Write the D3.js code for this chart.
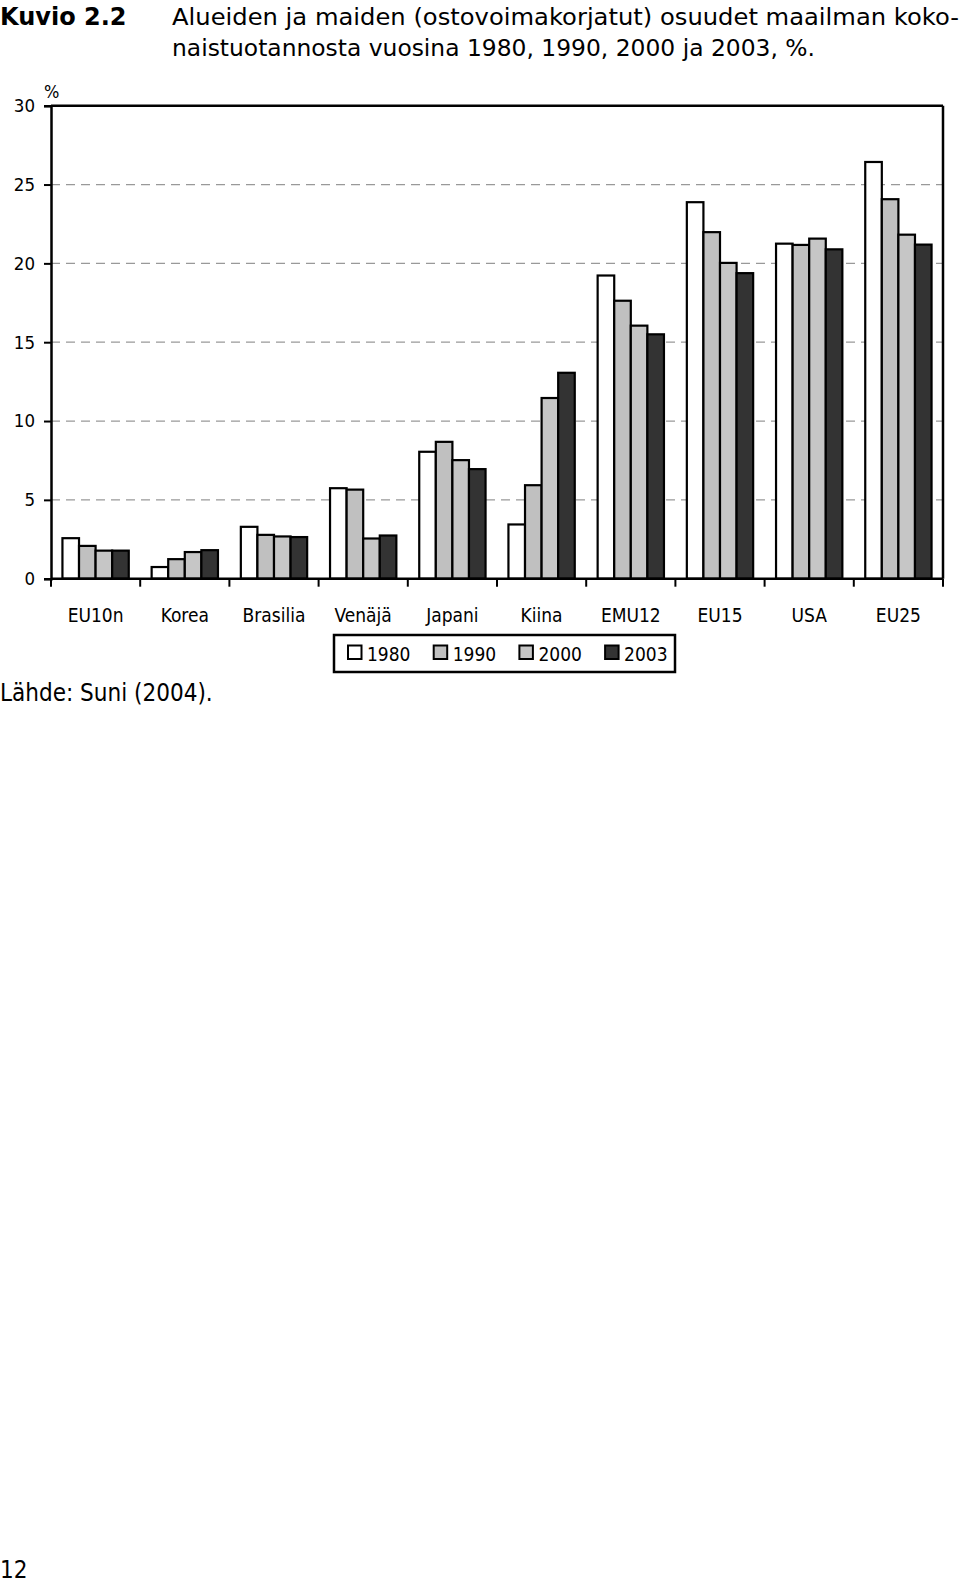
<!DOCTYPE html>
<html>
<head>
<meta charset="utf-8">
<script src="https://cdn.jsdelivr.net/npm/d3@7"></script>
<style>
  body { margin: 0; background: #fff; }
  svg { display: block; }
</style>
</head>
<body>
<svg id="chart" width="960" height="1585"></svg>
<script>
const categories = ["EU10n", "Korea", "Brasilia", "Venäjä", "Japani", "Kiina", "EMU12", "EU15", "USA", "EU25"];
const years = ["1980", "1990", "2000", "2003"];
const v1980 = [2.57, 0.74, 3.29, 5.74, 8.05, 3.44, 19.23, 23.88, 21.25, 26.43];
const v1990 = [2.08, 1.24, 2.78, 5.65, 8.68, 5.93, 17.63, 21.98, 21.17, 24.07];
const v2000 = [1.78, 1.69, 2.68, 2.55, 7.52, 11.46, 16.05, 20.03, 21.57, 21.82];
const v2003 = [1.78, 1.81, 2.64, 2.74, 6.95, 13.06, 15.50, 19.38, 20.89, 21.19];
const yTicks = [0, 5, 10, 15, 20, 25, 30];

const series = [v1980, v1990, v2000, v2003];
const fills = {"1980": "#ffffff", "1990": "#c0c0c0", "2000": "#c6c6c6", "2003": "#333333"};

const svg = d3.select("#chart");
const labelFont = "'DejaVu Sans Condensed', 'DejaVu Sans', sans-serif";
const titleFont = "'DejaVu Sans', Verdana, sans-serif";

const plotL = 51, plotR = 943, plotT = 105.7, plotB = 578.7;

const x0 = d3.scaleBand().domain(categories).range([plotL, plotR]).padding(0);
const x1 = d3.scaleBand().domain(years).range([0, x0.bandwidth()]).paddingInner(0).paddingOuter(0.69);
const y = d3.scaleLinear().domain([0, 30]).range([plotB, plotT]);

// title
svg.append("text").attr("x", 0).attr("y", 24.5)
    .style("font-family", titleFont).style("font-weight", "bold").style("font-size", "24px")
    .text("Kuvio 2.2");
svg.append("text").attr("x", 172).attr("y", 24.5)
    .style("font-family", titleFont).style("font-size", "22.5px")
    .attr("textLength", 787).attr("lengthAdjust", "spacingAndGlyphs")
    .text("Alueiden ja maiden (ostovoimakorjatut) osuudet maailman koko-");
svg.append("text").attr("x", 172).attr("y", 55.8)
    .style("font-family", titleFont).style("font-size", "22.5px")
    .attr("textLength", 643).attr("lengthAdjust", "spacingAndGlyphs")
    .text("naistuotannosta vuosina 1980, 1990, 2000 ja 2003, %.");

// gridlines
svg.append("g").selectAll("line")
    .data(yTicks.filter(d => d > 0 && d < 30))
    .join("line")
    .attr("x1", plotL).attr("x2", plotR)
    .attr("y1", d => y(d)).attr("y2", d => y(d))
    .attr("stroke", "#999").attr("stroke-width", 1.2)
    .attr("stroke-dasharray", "9,6");

// bars
const g = svg.append("g");
categories.forEach((c, i) => {
    years.forEach((yr, j) => {
        const v = series[j][i];
        g.append("rect")
            .attr("x", x0(c) + x1(yr))
            .attr("y", y(v))
            .attr("width", x1.bandwidth())
            .attr("height", y(0) - y(v))
            .attr("fill", fills[yr])
            .attr("stroke", "#000")
            .attr("stroke-width", 2.2);
    });
});

// frame: top and right
svg.append("line").attr("x1", plotL).attr("x2", plotR).attr("y1", y(30)).attr("y2", y(30))
    .attr("stroke", "#000").attr("stroke-width", 2.5);
svg.append("line").attr("x1", plotR).attr("x2", plotR).attr("y1", y(30)).attr("y2", y(0))
    .attr("stroke", "#000").attr("stroke-width", 2.5);

// y axis
const yAxis = d3.axisLeft(y).tickValues(yTicks).tickSize(7).tickPadding(9).tickFormat(d3.format("d"));
const ya = svg.append("g").attr("transform", `translate(${plotL},0)`).call(yAxis);
ya.select(".domain").attr("stroke", "#000").attr("stroke-width", 2.5);
ya.selectAll(".tick line").attr("stroke", "#000").attr("stroke-width", 2);
ya.selectAll(".tick text").style("font-family", labelFont).style("font-size", "18.5px").attr("fill", "#000");

svg.append("text").attr("x", 44).attr("y", 98)
    .style("font-family", labelFont).style("font-size", "18px").text("%");

// x axis: baseline with ticks at category boundaries
svg.append("line").attr("x1", plotL).attr("x2", plotR).attr("y1", y(0)).attr("y2", y(0))
    .attr("stroke", "#000").attr("stroke-width", 2.5);
const bounds = categories.map(c => x0(c)).concat([plotR]);
svg.append("g").selectAll("line").data(bounds).join("line")
    .attr("x1", d => d).attr("x2", d => d)
    .attr("y1", y(0)).attr("y2", y(0) + 8)
    .attr("stroke", "#000").attr("stroke-width", 2);
svg.append("g").selectAll("text").data(categories).join("text")
    .attr("x", d => x0(d) + x0.bandwidth() / 2)
    .attr("y", 622)
    .attr("text-anchor", "middle")
    .style("font-family", labelFont).style("font-size", "19px")
    .text(d => d);

// legend
const lg = svg.append("g");
lg.append("rect").attr("x", 334).attr("y", 635).attr("width", 341).attr("height", 37)
    .attr("fill", "#fff").attr("stroke", "#000").attr("stroke-width", 2.5);
years.forEach((yr, j) => {
    const lx = 348 + j * 85.7;
    lg.append("rect").attr("x", lx).attr("y", 645.5).attr("width", 13.5).attr("height", 13.5)
        .attr("fill", fills[yr]).attr("stroke", "#000").attr("stroke-width", 2);
    lg.append("text").attr("x", lx + 19).attr("y", 661)
        .style("font-family", labelFont).style("font-size", "19px").text(yr);
});

// source and page number
svg.append("text").attr("x", 0).attr("y", 701)
    .style("font-family", labelFont).style("font-size", "24px").text("Lähde: Suni (2004).");
svg.append("text").attr("x", 0).attr("y", 1578)
    .style("font-family", labelFont).style("font-size", "24px").text("12");
</script>
</body>
</html>
